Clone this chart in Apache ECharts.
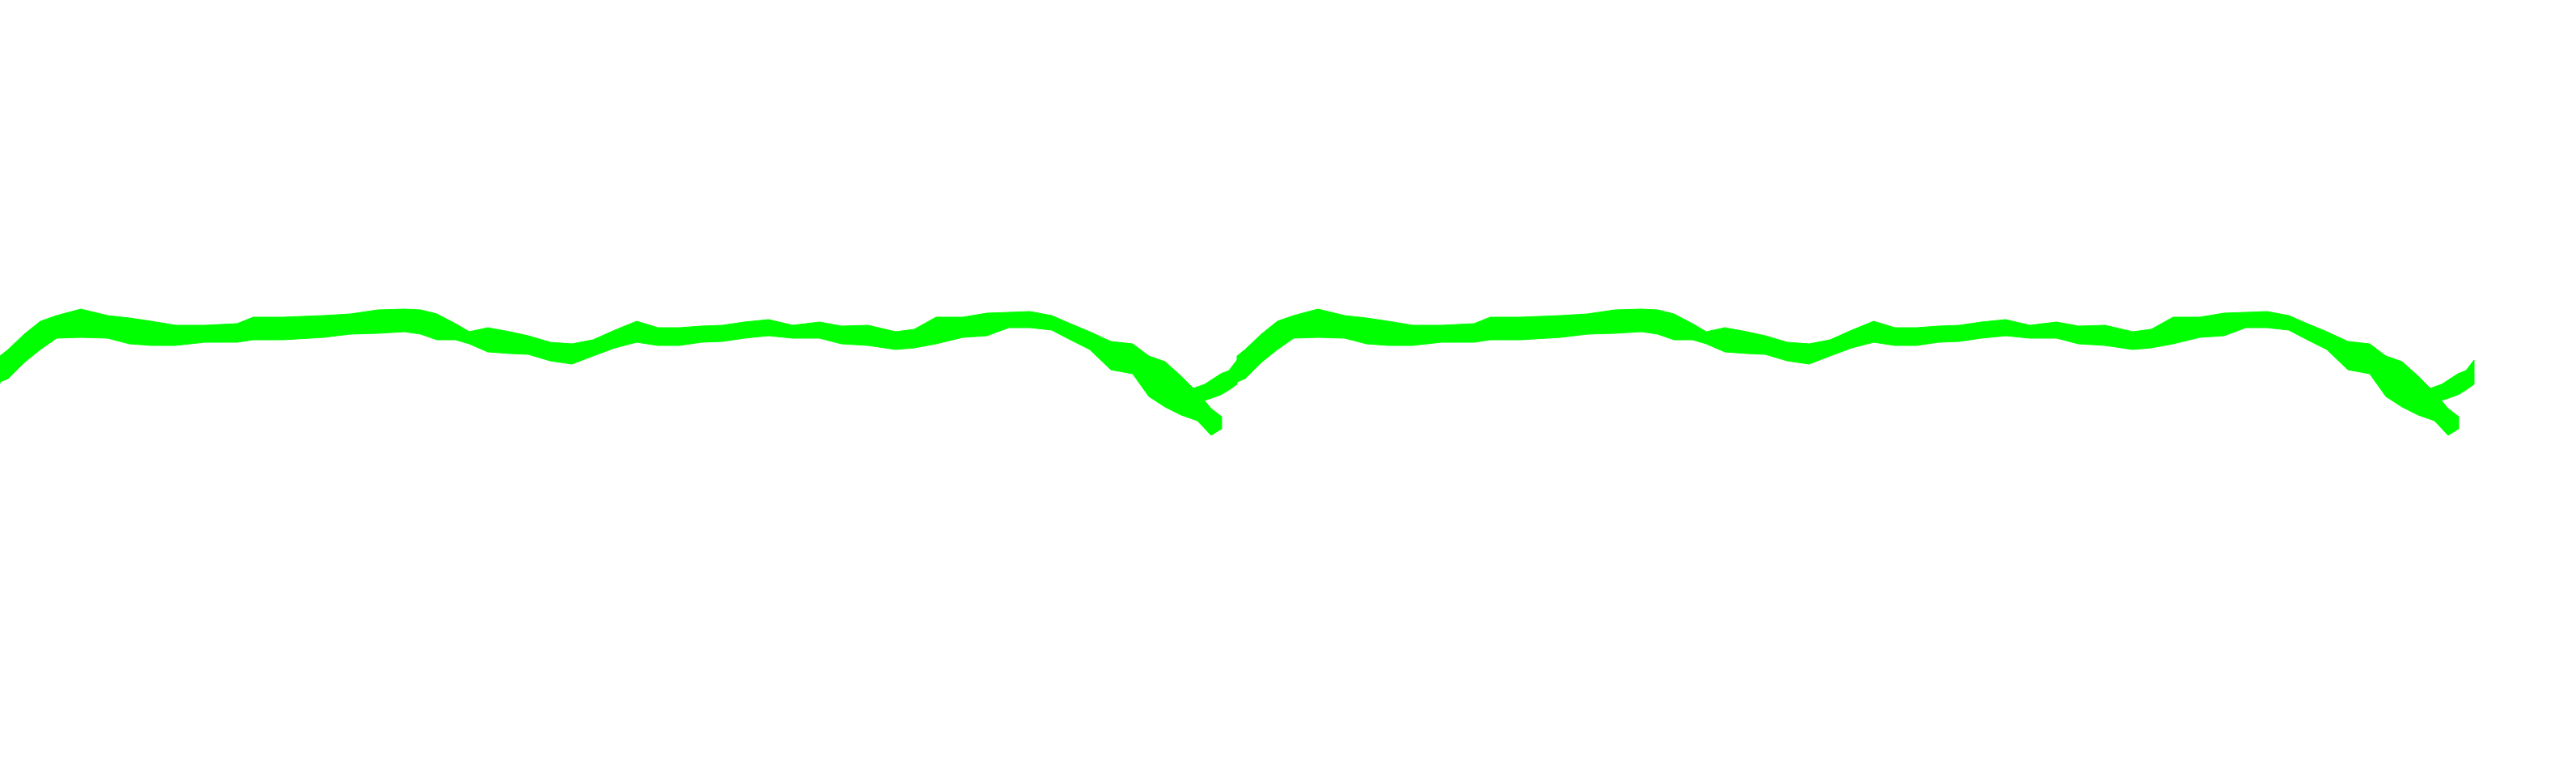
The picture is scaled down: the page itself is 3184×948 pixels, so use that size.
<!DOCTYPE html>
<html>
<head>
<meta charset="utf-8">
<script src="https://cdn.jsdelivr.net/npm/echarts@6/dist/echarts.min.js"></script>
<style>
html,body{margin:0;padding:0;background:#ffffff;}
#chart{width:3184px;height:948px;}
</style>
</head>
<body>
<div id="chart"></div>
<script>
// One repeating cycle of the band (x offset within a cycle, band top and bottom)
const mainX = [0, 10, 30, 50, 70, 100, 133, 160, 187, 217, 253, 293, 313, 350, 400, 433, 467, 500, 520, 540, 563, 580, 603, 630, 653, 680, 707, 733, 760, 787, 813, 840, 867, 893, 920, 950, 980, 1013, 1040, 1073, 1107, 1130, 1157, 1190, 1220, 1247, 1273, 1300, 1323, 1347, 1373, 1400, 1420, 1440, 1460, 1480, 1497, 1510];
const mainTop = [440, 432, 413, 397, 390, 382, 390, 393, 397, 402, 402, 400, 392, 392, 390, 388, 383, 382, 383, 388, 400, 410, 405, 410, 415, 423, 425, 420, 408, 397, 405, 405, 403, 402, 398, 395, 402, 398, 403, 402, 410, 407, 392, 392, 387, 386, 385, 390, 400, 410, 422, 425, 440, 447, 465, 485, 505, 515];
const mainBottom = [472, 468, 448, 432, 418, 417, 418, 425, 427, 427, 423, 423, 420, 420, 417, 413, 412, 410, 413, 420, 420, 425, 435, 437, 438, 446, 450, 440, 430, 423, 427, 427, 423, 422, 418, 415, 418, 418, 425, 427, 432, 430, 425, 417, 415, 405, 405, 408, 420, 432, 457, 462, 490, 503, 513, 520, 538, 530];
// Rising branch that leads into the next cycle (offsets relative to the next cycle start)
const riseX = [-80, -60, -40, -20, -10, 0];
const riseTop = [488, 482, 475, 462, 458, 445];
const riseBottom = [505, 502, 495, 488, 482, 475];
// Where the repeated cycles begin
const cycleStarts = [0, 1529];
const riseStarts = [0, 1529, 3058];

const GREEN = '#00ff00';
const bands = [];
cycleStarts.forEach(s => bands.push({ xs: mainX, tops: mainTop, bottoms: mainBottom, start: s }));
riseStarts.forEach(s => bands.push({ xs: riseX, tops: riseTop, bottoms: riseBottom, start: s }));

const hiddenAxisParts = {
  show: true,
  axisLine: { show: false },
  axisTick: { show: false },
  axisLabel: { show: false },
  splitLine: { show: false }
};

const chart = echarts.init(document.getElementById('chart'));
chart.setOption({
  animation: false,
  backgroundColor: '#ffffff',
  grid: { left: 100, right: 100, top: 100, bottom: 100 },
  xAxis: Object.assign({ type: 'value', min: 100, max: 3084, interval: 100 }, hiddenAxisParts),
  yAxis: Object.assign({ type: 'value', inverse: true, min: 100, max: 848, interval: 100 }, hiddenAxisParts),
  series: [{
    type: 'custom',
    silent: true,
    clip: false,
    coordinateSystem: 'cartesian2d',
    data: bands.map((b, i) => [b.start + 200, 400 + i]),
    renderItem: function (params, api) {
      const b = bands[params.dataIndex];
      const pts = [];
      for (let i = 0; i < b.xs.length; i++) pts.push(api.coord([b.xs[i] + b.start, b.tops[i]]));
      for (let i = b.xs.length - 1; i >= 0; i--) pts.push(api.coord([b.xs[i] + b.start, b.bottoms[i]]));
      return {
        type: 'polygon',
        shape: { points: pts },
        style: { fill: GREEN, stroke: GREEN, lineWidth: 1 }
      };
    }
  }]
});
</script>
</body>
</html>
